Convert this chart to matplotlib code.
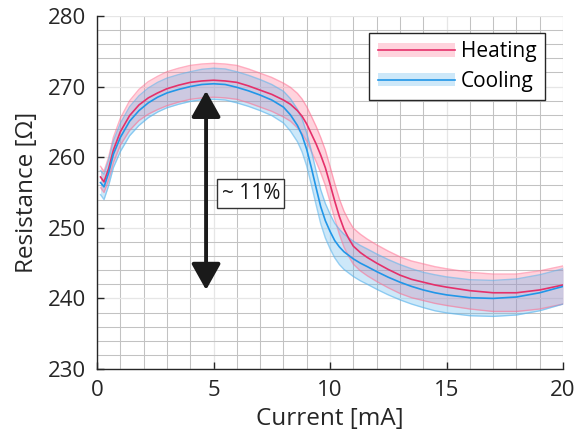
import matplotlib
matplotlib.use("Agg")
import matplotlib.pyplot as plt
from matplotlib.patches import Patch, FancyArrowPatch
from matplotlib.lines import Line2D
import numpy as np

plt.rcParams['font.family'] = ['Open Sans', 'DejaVu Sans']

# current [mA]
current = [0.15, 0.3, 0.5, 0.7, 1.0, 1.4, 1.8, 2.2, 2.6, 3.0, 3.5, 4.0, 4.5,
           5.0, 5.5, 6.0, 6.5, 7.0, 7.5, 8.0, 8.3, 8.6, 8.8, 9.0, 9.2, 9.4,
           9.6, 9.8, 10.0, 10.2, 10.4, 10.6, 10.8, 11.0, 11.3, 11.6, 12.0,
           12.5, 13.0, 13.5, 14.0, 14.5, 15.0, 16.0, 17.0, 18.0, 19.0, 20.0]

heat_mean = [257.2, 256.5, 258.4, 261.0, 263.6, 265.9, 267.4, 268.4, 269.1,
             269.7, 270.2, 270.6, 270.8, 270.9, 270.8, 270.6, 270.1, 269.5,
             268.9, 268.1, 267.5, 266.6, 265.8, 264.7, 263.3, 261.9, 260.3,
             258.5, 256.2, 253.8, 251.6, 249.8, 248.5, 247.4, 246.5, 245.8,
             245.0, 244.1, 243.3, 242.7, 242.3, 241.9, 241.6, 241.1, 240.8,
             240.8, 241.2, 241.9]
heat_std = [1.5, 1.5, 1.6, 1.8, 1.9, 2.1, 2.2, 2.3, 2.35, 2.4, 2.4, 2.4, 2.4,
            2.4, 2.4, 2.4, 2.4, 2.4, 2.4, 2.4, 2.4, 2.45, 2.45, 2.45, 2.5, 2.5,
            2.5, 2.5, 2.5, 2.5, 2.5, 2.55, 2.55, 2.55, 2.6, 2.6, 2.6, 2.6, 2.6,
            2.6, 2.6, 2.6, 2.6, 2.6, 2.65, 2.65, 2.7, 2.7]

cool_mean = [256.4, 255.8, 257.8, 260.4, 262.8, 265.1, 266.6, 267.7, 268.5,
             269.1, 269.6, 270.0, 270.3, 270.4, 270.3, 269.9, 269.4, 268.8,
             268.1, 267.1, 266.0, 264.5, 263.1, 261.1, 258.5, 255.7, 253.0,
             251.0, 249.5, 248.2, 247.3, 246.6, 246.1, 245.6, 245.0, 244.5,
             243.8, 243.0, 242.3, 241.7, 241.2, 240.8, 240.5, 240.1, 240.0,
             240.2, 240.8, 241.7]
cool_std = [1.7, 1.8, 1.8, 1.9, 2.0, 2.05, 2.1, 2.1, 2.1, 2.1, 2.1, 2.1, 2.15,
            2.2, 2.2, 2.2, 2.2, 2.2, 2.2, 2.25, 2.3, 2.3, 2.35, 2.35, 2.4, 2.4,
            2.4, 2.45, 2.45, 2.45, 2.5, 2.5, 2.5, 2.5, 2.5, 2.5, 2.5, 2.5, 2.5,
            2.5, 2.5, 2.55, 2.55, 2.55, 2.55, 2.55, 2.55, 2.5]

red = '#e5306a'
red_fill = '#ff6f91'
blue = '#2196e8'
blue_fill = '#5ab4ec'

fig = plt.figure(figsize=(5.82, 4.43), dpi=100)
ax = fig.add_axes([0.1667, 0.167, 0.8007, 0.7969])

x = np.array(current)
hm, hs = np.array(heat_mean), np.array(heat_std)
cm, cs = np.array(cool_mean), np.array(cool_std)

ax.fill_between(x, hm - hs, hm + hs, color=red_fill, alpha=0.3, lw=0)
ax.plot(x, hm - hs, color=red_fill, alpha=0.55, lw=1)
ax.plot(x, hm + hs, color=red_fill, alpha=0.55, lw=1)
ax.fill_between(x, cm - cs, cm + cs, color=blue_fill, alpha=0.3, lw=0)
ax.plot(x, cm - cs, color=blue_fill, alpha=0.6, lw=1)
ax.plot(x, cm + cs, color=blue_fill, alpha=0.6, lw=1)
ax.plot(x, hm, color=red, lw=1.2)
ax.plot(x, cm, color=blue, lw=1.2)

ax.set_xlim(0, 20)
ax.set_ylim(230, 280)
ax.set_xticks([0, 5, 10, 15, 20])
ax.set_yticks([230, 240, 250, 260, 270, 280])
ax.set_xticks(np.arange(0, 21, 1), minor=True)
ax.set_yticks(np.arange(230, 281, 2), minor=True)
ax.grid(which='minor', color='#c2c2c2', lw=0.75)
ax.grid(which='major', color='#e6e6e6', lw=0.9)
ax.set_axisbelow(True)
ax.tick_params(which='major', direction='in', length=5, width=1,
               labelsize=16, pad=8, colors='#262626')
ax.tick_params(which='minor', length=0)
for s in ['top', 'right']:
    ax.spines[s].set_visible(False)
for s in ['left', 'bottom']:
    ax.spines[s].set_color('#262626')
    ax.spines[s].set_linewidth(1)

ax.set_xlabel('Current [mA]', fontsize=17.5, color='#262626', labelpad=4)
ax.set_ylabel('Resistance [Ω]', fontsize=17.5, color='#262626', labelpad=6)

# arrow and annotation
arr = FancyArrowPatch((4.68, 269.4), (4.68, 241.2),
                      arrowstyle='<|-|>,head_length=1.0,head_width=0.56',
                      mutation_scale=16, lw=2.8, color='#1a1a1a',
                      shrinkA=0, shrinkB=0, zorder=5)
ax.add_patch(arr)
ax.text(6.6, 254.9, '~ 11%', ha='center', va='center', fontsize=15,
        color='#1a1a1a', zorder=6,
        bbox=dict(boxstyle='square,pad=0.2', fc='white', ec='#333333', lw=1))

h_heat = (Patch(facecolor=red_fill, alpha=0.3, lw=0), Line2D([], [], color=red, lw=1.2))
h_cool = (Patch(facecolor=blue_fill, alpha=0.3, lw=0), Line2D([], [], color=blue, lw=1.2))
leg = ax.legend([h_heat, h_cool], ['Heating', 'Cooling'], loc='upper right',
                bbox_to_anchor=(0.961, 0.952), borderaxespad=0, fontsize=15,
                handlelength=3.7, handleheight=0.6, handletextpad=0.3,
                labelspacing=0.4, borderpad=0.4, fancybox=False,
                framealpha=1, edgecolor='#262626')
leg.get_frame().set_linewidth(1)

fig.savefig('out.png', dpi=100)
